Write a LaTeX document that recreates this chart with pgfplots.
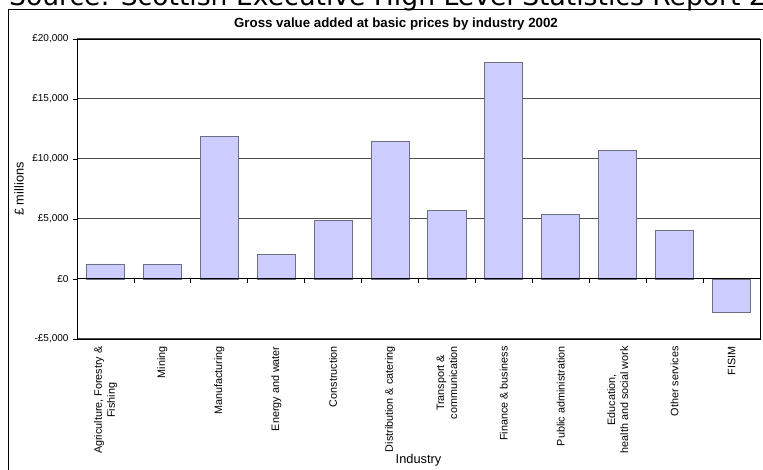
\documentclass[border=0pt]{standalone}
\usepackage{pgfplots}
\pgfplotsset{compat=1.18}
\usepackage{fontspec}
\setmainfont{Liberation Sans}
\newfontfamily\dejavu{DejaVu Sans}
\definecolor{barfill}{RGB}{204,204,255}
\definecolor{baredge}{RGB}{110,110,130}
\begin{document}
\begin{tikzpicture}
\useasboundingbox (0,0) rectangle (763pt,470pt);
\clip (0,0) rectangle (763pt,470pt);
% source line (cropped at top and right, as in the reference)
\node[anchor=base west, inner sep=0pt, font=\dejavu\fontsize{26.6}{26.6}\selectfont] at (9pt,464pt) {Source: Scottish Executive High Level Statistics Report 2002};
% outer chart frame
\draw[black, line width=1pt] (8pt,-5pt) -- (8pt,460pt) -- (780pt,460pt);
% title
\node[font=\bfseries\fontsize{13.3}{14}\selectfont] at (396pt,446pt) {Gross value added at basic prices by industry 2002};
\begin{axis}[
  at={(77pt,131pt)}, anchor=south west,
  scale only axis, width=683pt, height=300pt,
  xmin=-0.5, xmax=11.5, ymin=-5000, ymax=20000,
  /pgf/number format/assume math mode=true,
  scaled y ticks=false,
  axis line style={black, line width=0.9pt},
  ytick={-5000,0,5000,10000,15000,20000},
  yticklabels={{-£5,000},{£0},{£5,000},{£10,000},{£15,000},{£20,000}},
  y tick label style={font=\fontsize{10}{10}\selectfont, xshift=-1pt},
  tick align=outside,
  major tick length=4pt,
  tick style={black, line width=0.8pt},
  ytick pos=left,
  xtick={0,...,11},
  x tick style={draw=none},
  xticklabels={{Agriculture, Forestry \&\\Fishing},Mining,Manufacturing,Energy and water,Construction,Distribution \& catering,{Transport \&\\communication},Finance \& business,Public administration,{Education,\\health and social work},Other services,FISIM},
  x tick label style={rotate=90, anchor=east, align=center, font=\fontsize{10.8}{13}\selectfont},
  ymajorgrids,
  grid style={black!70, line width=1pt},
  xlabel={Industry},
  xlabel style={at={(axis description cs:0.5,0)}, anchor=center, yshift=-121pt, font=\fontsize{12.8}{13}\selectfont},
  ylabel={£ millions},
  ylabel style={at={(axis description cs:-0.085,0.5)}, anchor=center, font=\fontsize{12.8}{13}\selectfont},
  clip=false,
]
\addplot[ybar, bar width=0.67, fill=barfill, draw=baredge, line width=0.9pt] coordinates {
  (0,1250) (1,1230) (2,11900) (3,2080) (4,4900) (5,11450)
  (6,5700) (7,18050) (8,5420) (9,10750) (10,4050) (11,-2800)
};
\draw[black, line width=1pt] (axis cs:-0.5,0) -- (axis cs:11.5,0);
\pgfplotsinvokeforeach{0.5,1.5,2.5,3.5,4.5,5.5,6.5,7.5,8.5,9.5,10.5}{
  \draw[black, line width=0.8pt] (axis cs:#1,0) -- ([yshift=-4pt]axis cs:#1,0);
}
\end{axis}
\end{tikzpicture}
\end{document}
